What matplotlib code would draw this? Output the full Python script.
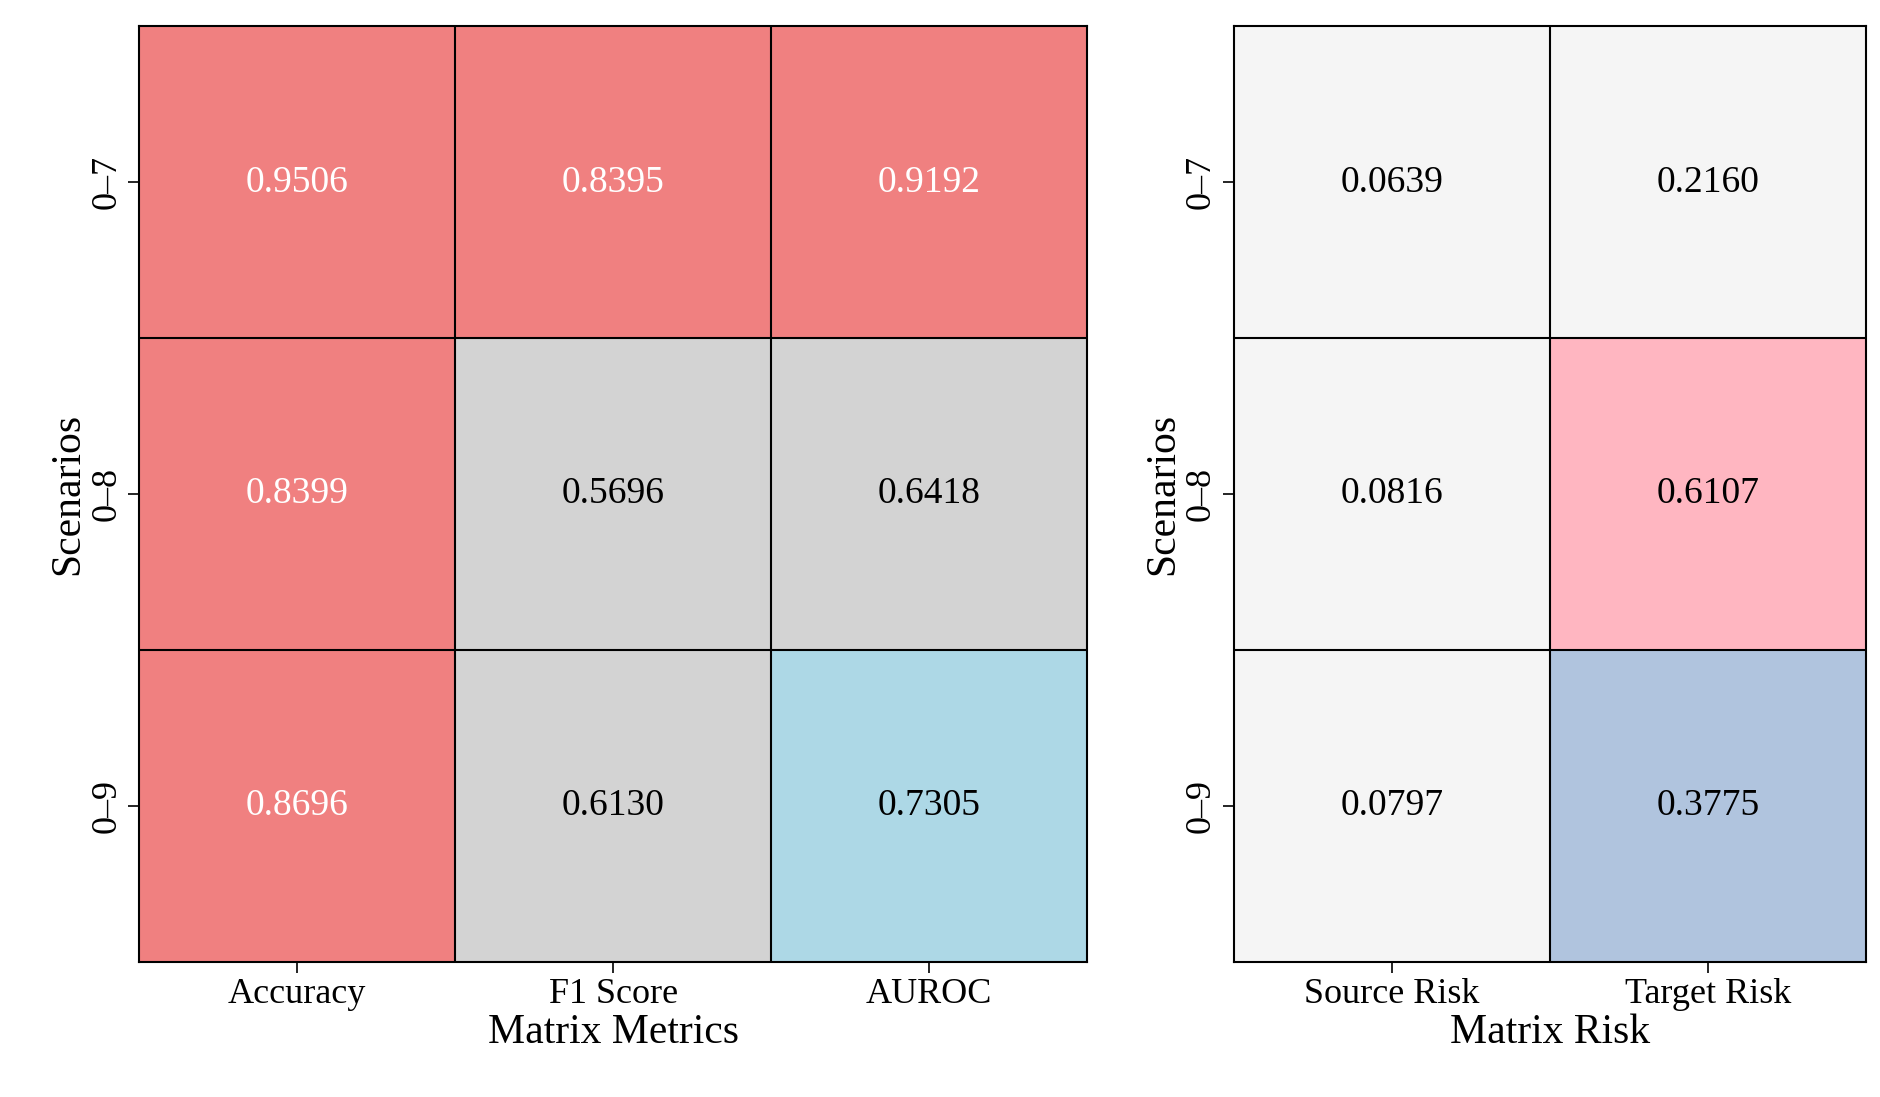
import matplotlib
matplotlib.use("Agg")
import matplotlib.pyplot as plt
import numpy as np
from matplotlib.colors import to_rgb

scenarios = ["0–7", "0–8", "0–9"]
metrics = ["Accuracy", "F1 Score", "AUROC"]
metric_vals = [[0.9506, 0.8395, 0.9192],
               [0.8399, 0.5696, 0.6418],
               [0.8696, 0.6130, 0.7305]]
metric_cols = [["lightcoral", "lightcoral", "lightcoral"],
               ["lightcoral", "lightgray", "lightgray"],
               ["lightcoral", "lightgray", "lightblue"]]
risks = ["Source Risk", "Target Risk"]
risk_vals = [[0.0639, 0.2160],
             [0.0816, 0.6107],
             [0.0797, 0.3775]]
risk_cols = [["whitesmoke", "whitesmoke"],
             ["whitesmoke", "lightpink"],
             ["whitesmoke", "lightsteelblue"]]

plt.rcParams["font.family"] = "Liberation Serif"
fig = plt.figure(figsize=(18.81, 10.97), dpi=100)
ax1 = fig.add_axes([0.074, 0.123, 0.504, 0.853])
ax2 = fig.add_axes([0.656, 0.123, 0.336, 0.853])

def draw(ax, vals, cols, xl, xlabel):
    rgb = np.array([[to_rgb(c) for c in row] for row in cols])
    ax.imshow(rgb, aspect="auto")
    n, m = len(vals), len(vals[0])
    for i in range(n):
        for j in range(m):
            tc = "white" if cols[i][j] == "lightcoral" else "black"
            ax.text(j, i, f"{vals[i][j]:.4f}", ha="center", va="center", color=tc, fontsize=27)
    for k in range(1, m):
        ax.axvline(k - 0.5, color="black", lw=1.5)
    for k in range(1, n):
        ax.axhline(k - 0.5, color="black", lw=1.5)
    ax.set_xticks(range(m))
    ax.set_xticklabels(xl, fontsize=26)
    ax.set_yticks(range(n))
    ax.set_yticklabels(scenarios, fontsize=26, rotation=90, va="center")
    ax.set_xlabel(xlabel, fontsize=30, labelpad=2)
    ax.set_ylabel("Scenarios", fontsize=30, labelpad=2)
    ax.tick_params(length=8, width=1.2)
    for s in ax.spines.values():
        s.set_linewidth(1.5)

draw(ax1, metric_vals, metric_cols, metrics, "Matrix Metrics")
draw(ax2, risk_vals, risk_cols, risks, "Matrix Risk")
fig.savefig("out.png", dpi=100)
